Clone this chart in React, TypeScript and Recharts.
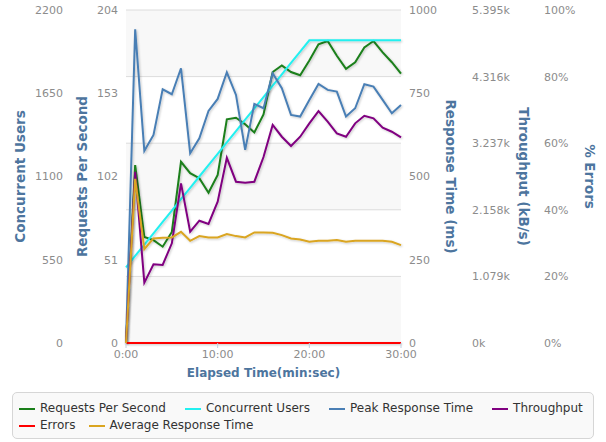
import { CartesianGrid, Legend, Line, LineChart, XAxis, YAxis } from "recharts"

const minutes = [0, 1, 2, 3, 4, 5, 6, 7, 8, 9, 10, 11, 12, 13, 14, 15, 16, 17, 18, 19, 20, 21, 22, 23, 24, 25, 26, 27, 28, 29, 30]
const requestsPerSecond = [0, 109, 65, 63, 59, 68, 111, 104, 101, 92, 103, 137, 138, 134, 129, 140, 166, 170, 166, 164, 173, 183, 185, 176, 168, 172, 181, 185, 178, 172, 165]
const concurrentUsers = [500, 575, 650, 725, 800, 875, 950, 1025, 1100, 1175, 1250, 1325, 1400, 1475, 1550, 1625, 1700, 1775, 1850, 1925, 2000, 2000, 2000, 2000, 2000, 2000, 2000, 2000, 2000, 2000, 2000]
const peakResponseTime = [0, 942, 577, 625, 762, 747, 825, 570, 615, 697, 733, 813, 745, 580, 718, 705, 810, 765, 685, 680, 730, 778, 760, 755, 680, 705, 777, 770, 730, 690, 715]
const throughput = [0, 2775, 977, 1275, 1264, 1615, 2587, 1803, 1981, 1928, 2289, 3000, 2613, 2597, 2613, 3013, 3532, 3342, 3191, 3342, 3559, 3758, 3585, 3397, 3342, 3559, 3682, 3640, 3488, 3423, 3332]
const errors = [0, 0, 0, 0, 0, 0, 0, 0, 0, 0, 0, 0, 0, 0, 0, 0, 0, 0, 0, 0, 0, 0, 0, 0, 0, 0, 0, 0, 0, 0, 0]
const averageResponseTime = [0, 493, 282, 314, 316, 317, 334, 307, 321, 317, 317, 327, 321, 317, 332, 332, 331, 324, 314, 311, 304, 307, 307, 309, 304, 307, 307, 307, 307, 304, 294]

const timeTicks = [0, 10, 20, 30]
const userTicks = [0, 550, 1100, 1650, 2200]
const rpsTicks = [0, 51, 102, 153, 204]
const responseTicks = [0, 250, 500, 750, 1000]
const throughputTicks = [0, 1079, 2158, 3237, 4316, 5395]
const errorTicks = [0, 20, 40, 60, 80, 100]

const data = minutes.map((t, i) => ({
  t,
  rps: requestsPerSecond[i],
  users: concurrentUsers[i],
  peak: peakResponseTime[i],
  tput: throughput[i],
  err: errors[i],
  avg: averageResponseTime[i],
}))

// axis ids are prefixed so recharts stacks them in the right order (l1/r1 next to the plot)
const series = [
  { key: "rps", name: "Requests Per Second", color: "#1a7f1a", axis: "l1_rps" },
  { key: "users", name: "Concurrent Users", color: "#22f0f0", axis: "l2_users" },
  { key: "peak", name: "Peak Response Time", color: "#4a7fb5", axis: "r1_resp" },
  { key: "tput", name: "Throughput", color: "#800080", axis: "r2_tput" },
  { key: "err", name: "Errors", color: "#ff0000", axis: "r3_err" },
  { key: "avg", name: "Average Response Time", color: "#daa520", axis: "r1_resp" },
]

const FONT = '"DejaVu Sans", Verdana, sans-serif'
const TITLE_COLOR = "#4d759e"
const tickStyle = { fontSize: 11, fill: "#8c8c8c" }

// rotated axis title, placed dx px from the axis box's left edge
function axisTitle(text: string, dx: number, angle: number) {
  return (props: any) => {
    const vb = props.viewBox
    const cx = vb.x + dx
    const cy = vb.y + vb.height / 2
    return (
      <text
        x={cx}
        y={cy}
        transform={`rotate(${angle} ${cx} ${cy})`}
        textAnchor="middle"
        dominantBaseline="central"
        fill={TITLE_COLOR}
        fontSize={13.5}
        fontWeight="bold"
      >
        {text}
      </text>
    )
  }
}

function xTitle(props: any) {
  const vb = props.viewBox
  return (
    <text
      x={vb.x + vb.width / 2}
      y={vb.y + 29.5}
      textAnchor="middle"
      dominantBaseline="central"
      fill={TITLE_COLOR}
      fontSize={12}
      fontWeight="bold"
    >
      Elapsed Time(min:sec)
    </text>
  )
}

function LegendBox() {
  const rows = [series.slice(0, 4), series.slice(4)]
  const gaps = [19, 13]
  return (
    <div
      style={{
        boxSizing: "border-box",
        width: 582,
        height: 47,
        border: "1px solid #d6d6d6",
        borderRadius: 5,
        background: "#f9f9f9",
        padding: "7px 0 0 6px",
        fontSize: 12,
        lineHeight: "17px",
        color: "#333",
      }}
    >
      {rows.map((row, r) => (
        <div key={r} style={{ display: "flex", gap: gaps[r], whiteSpace: "nowrap" }}>
          {row.map((s) => (
            <span key={s.key} style={{ display: "flex", alignItems: "center" }}>
              <span style={{ width: 16, height: 2, background: s.color, marginRight: 5 }} />
              {s.name}
            </span>
          ))}
        </div>
      ))}
    </div>
  )
}

export default function App() {
  return (
    <div style={{ position: "absolute", left: 0, top: 0, width: 606, height: 442, background: "#fff", fontFamily: FONT }}>
      <LineChart width={606} height={442} data={data} margin={{ top: 10, right: 0, bottom: 59, left: 0 }}>
        <defs>
          <filter id="shade" filterUnits="userSpaceOnUse" x="0" y="0" width="606" height="442">
            <feDropShadow dx="1" dy="1" stdDeviation="0.8" floodColor="#000" floodOpacity="0.22" />
          </filter>
        </defs>
        <CartesianGrid
          yAxisId="r3_err"
          vertical={false}
          stroke="#dcdcdc"
          horizontalFill={["#f8f8f8", "#ffffff"]}
        />
        <XAxis
          dataKey="t"
          type="number"
          domain={[0, 30]}
          ticks={timeTicks}
          tickFormatter={(m) => `${m}:00`}
          tick={tickStyle}
          tickSize={5}
          tickMargin={2}
          stroke="#c0d0e0"
          axisLine={false}
          height={40}
          label={xTitle}
        />
        <YAxis
          yAxisId="l1_rps"
          orientation="left"
          width={55}
          domain={[0, 204]}
          ticks={rpsTicks}
          interval={0}
          tick={tickStyle}
          axisLine={false}
          tickLine={false}
          tickSize={0}
          tickMargin={8}
          label={axisTitle("Requests Per Second", 11, -90)}
        />
        <YAxis
          yAxisId="l2_users"
          orientation="left"
          width={71}
          domain={[0, 2200]}
          ticks={userTicks}
          interval={0}
          tick={tickStyle}
          axisLine={false}
          tickLine={false}
          tickSize={0}
          tickMargin={8}
          label={axisTitle("Concurrent Users", 20, -90)}
        />
        <YAxis
          yAxisId="r1_resp"
          orientation="right"
          width={63}
          domain={[0, 1000]}
          ticks={responseTicks}
          interval={0}
          tick={tickStyle}
          axisLine={false}
          tickLine={false}
          tickSize={0}
          tickMargin={8}
          label={axisTitle("Response Time (ms)", 50, 90)}
        />
        <YAxis
          yAxisId="r2_tput"
          orientation="right"
          width={72}
          domain={[0, 5395]}
          ticks={throughputTicks}
          interval={0}
          tickFormatter={(v) => `${v / 1000}k`}
          tick={tickStyle}
          axisLine={false}
          tickLine={false}
          tickSize={0}
          tickMargin={8}
          label={axisTitle("Throughput (kB/s)", 60, 90)}
        />
        <YAxis
          yAxisId="r3_err"
          orientation="right"
          width={70}
          domain={[0, 100]}
          ticks={errorTicks}
          interval={0}
          tickFormatter={(v) => `${v}%`}
          tick={tickStyle}
          axisLine={false}
          tickLine={false}
          tickSize={0}
          tickMargin={8}
          label={axisTitle("% Errors", 53.5, 90)}
        />
        {series.map((s) => (
          <Line
            key={s.key}
            type="linear"
            dataKey={s.key}
            name={s.name}
            yAxisId={s.axis}
            stroke={s.color}
            strokeWidth={2}
            dot={false}
            activeDot={false}
            filter="url(#shade)"
            isAnimationActive={false}
          />
        ))}
        <Legend
          layout="vertical"
          verticalAlign="middle"
          align="center"
          wrapperStyle={{ left: 12, top: 392, width: 582, height: 47 }}
          content={() => <LegendBox />}
        />
      </LineChart>
    </div>
  )
}
